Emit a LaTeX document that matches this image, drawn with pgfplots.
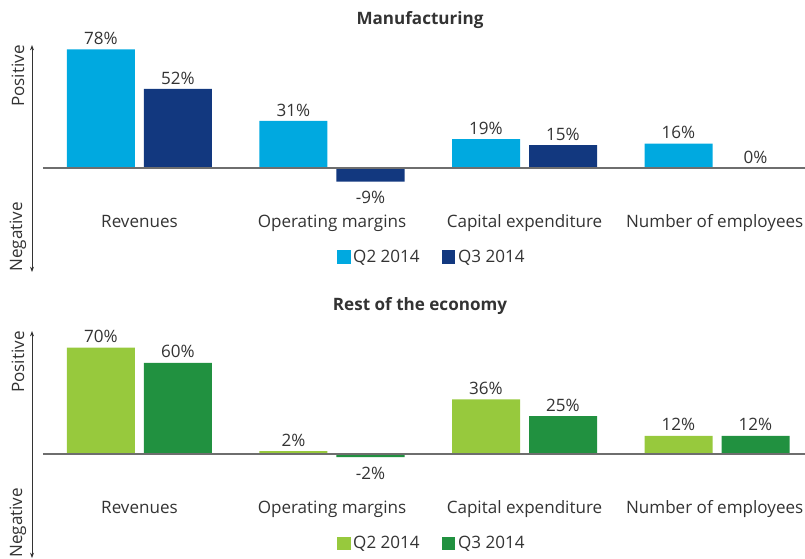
\documentclass[border=0pt]{standalone}
\usepackage{pgfplots}
\pgfplotsset{compat=1.18}
\usetikzlibrary{arrows.meta}
\usepackage{fontspec}
\setmainfont{Open Sans}
\definecolor{txt}{HTML}{333333}
\definecolor{lblue}{HTML}{00A9E0}
\definecolor{dblue}{HTML}{12387F}
\definecolor{lgreen}{HTML}{97C93D}
\definecolor{dgreen}{HTML}{219140}
\definecolor{basegray}{HTML}{6E6E6E}
\newcommand{\fs}{\fontsize{12.8}{15.2}\selectfont}
\pgfplotsset{panel/.style={
  x=144.375pt, y=1.14pt,
  xmin=-0.5584, xmax=3.457, ymin=-68.4, ymax=80.9,
  axis line style={draw=none},
  ytick=\empty,
  xtick={0,1,2,2.988},
  xticklabels={Revenues,Operating margins,Capital expenditure,Number of employees},
  major tick length=0pt,
  typeset ticklabels with strut,
  xticklabel style={anchor=center, yshift=36.5pt, text=txt, font=\fs},
  ybar, bar width=51pt,
  visualization depends on={rawy \as \myrawy},
  nodes near coords={\pgfmathprintnumber{\pgfplotspointmeta}\%},
  nodes near coords style={text=txt, font=\fs, yshift={-3.75*(\myrawy<0)}},
  /pgf/number format/assume math mode=true,
  clip=false,
  legend style={draw=none, fill=none, at={(0.518,0.066)}, anchor=center,
    legend columns=2, font=\fs, text=txt,
    /tikz/every even column/.append style={column sep=15pt}},
  legend image code/.code={\fill[##1] (0pt,-4.9pt) rectangle (9.8pt,4.9pt);},
  title style={at={(0.502,1)}, anchor=center, yshift=12.75pt, font=\fs\bfseries, text=txt},
}}
\newcommand{\decor}{%
  \draw[line width=0.6pt, draw=txt, {Stealth[length=4pt,width=3pt]}-{Stealth[length=4pt,width=3pt]}] (rel axis cs:0,0) -- (rel axis cs:0,1);
  \draw[line width=1.1pt, draw=basegray] (axis cs:-0.5013,0) -- (axis cs:3.457,0);
  \node[rotate=90, anchor=east, inner sep=0pt, text=txt, font=\fs] at ([xshift=-10.5pt]rel axis cs:0,1) {Positive};
  \node[rotate=90, anchor=west, inner sep=0pt, text=txt, font=\fs] at ([xshift=-10.5pt]rel axis cs:0,0) {Negative};
}
\begin{document}
\begin{tikzpicture}
\path[use as bounding box] (-24pt,-214.5pt) rectangle (579.75pt,204pt);
\begin{axis}[panel, title={Manufacturing}, at={(0,0)}, anchor=south west]
\addplot[fill=lblue, draw=none, bar shift=-28.875pt] coordinates {(0,78) (1,31) (2,19) (3,16)};
\addplot[fill=dblue, draw=none, bar shift=28.875pt] coordinates {(0,52) (1,-9) (2,15) (3,0)};
\legend{Q2 2014, Q3 2014}
\decor
\end{axis}
\begin{axis}[panel, title={Rest of the economy}, at={(0,-214.5pt)}, anchor=south west]
\addplot[fill=lgreen, draw=none, bar shift=-28.875pt] coordinates {(0,70) (1,2) (2,36) (3,12)};
\addplot[fill=dgreen, draw=none, bar shift=28.875pt] coordinates {(0,60) (1,-2) (2,25) (3,12)};
\legend{Q2 2014, Q3 2014}
\decor
\end{axis}
\end{tikzpicture}
\end{document}
